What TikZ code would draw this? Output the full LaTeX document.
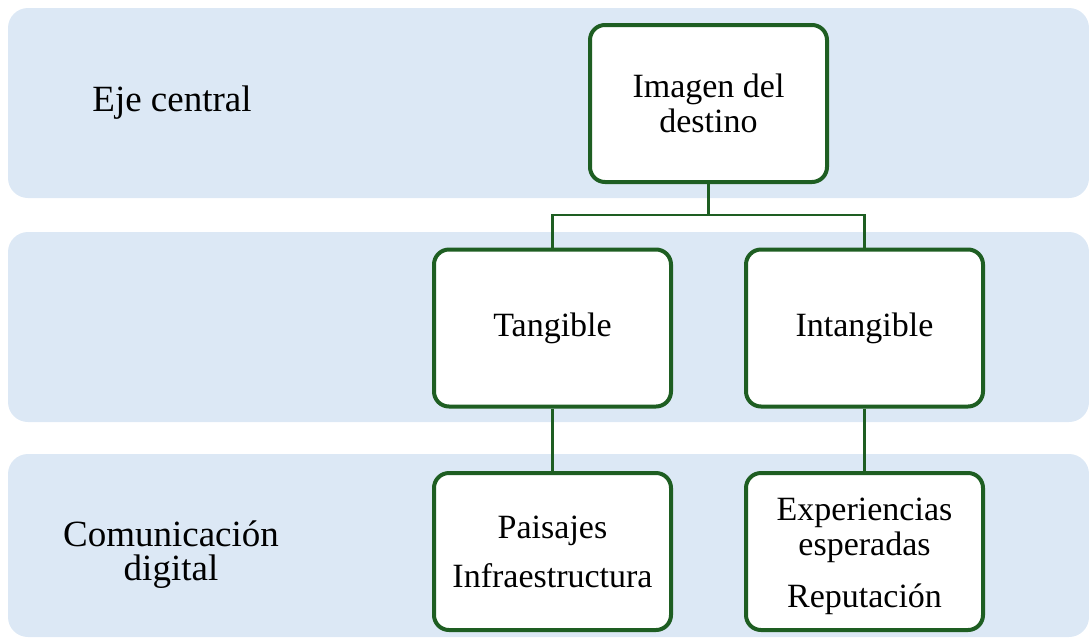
\documentclass[tikz,border=0pt]{standalone}
\usepackage{fontspec}
\setmainfont{Liberation Serif}
\definecolor{bandfill}{HTML}{DCE8F5}
\definecolor{boxline}{HTML}{1E5E22}
\begin{document}
\begin{tikzpicture}[x=1pt,y=-1pt,
  band/.style={fill=bandfill,draw=none,rounded corners=20pt},
  ybox/.style={draw=boxline,line width=4pt,fill=white,rounded corners=15pt,
    minimum width=237pt,minimum height=157pt,inner sep=0pt,align=center,
    font=\fontsize{34}{35}\selectfont},
  btxt/.style={inner sep=0pt,align=center,font=\fontsize{34}{35}\selectfont},
  lbl/.style={align=center,inner sep=0pt,font=\fontsize{37}{34}\selectfont},
  conn/.style={draw=boxline,line width=2.2pt}]
\useasboundingbox (0,0) rectangle (1089,638);
\fill[band] (8,8) rectangle (1089,198);
\fill[band] (8,232) rectangle (1089,422);
\fill[band] (8,454) rectangle (1089,637);
\node[lbl] (eje) at (172,103) {Eje central};
\node[lbl] (com) at (171,555) {Comunicación\\digital};
\node[ybox] (img) at (708.5,103.5) {Imagen del\\destino};
\node[ybox] (tan) at (552.5,328) {Tangible};
\node[ybox] (int) at (864.5,328) {Intangible};
\node[ybox] (pai) at (552.5,551.5) {Paisajes\\[14pt]Infraestructura};
\node[ybox] (exp) at (864.5,551.5) {};
\node[btxt] (exptxt) at (864.5,556.5) {Experiencias\\esperadas\\[17pt]Reputación};
\coordinate (mid) at (708.5,215);
\draw[conn] (img.south) -- (mid);
\draw[conn] (tan.north) |- (mid) -| (int.north);
\draw[conn] (tan.south) -- (pai.north);
\draw[conn] (int.south) -- (exp.north);
\end{tikzpicture}
\end{document}
